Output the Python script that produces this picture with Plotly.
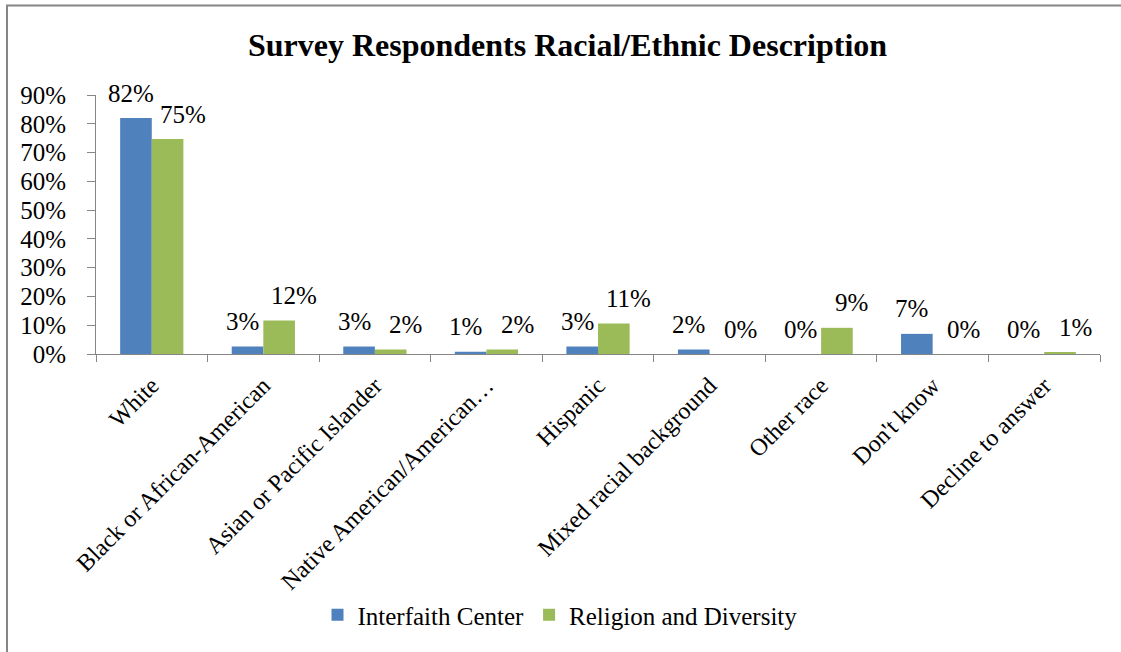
import plotly.graph_objects as go

categories = ["White", "Black or African-American", "Asian or Pacific Islander",
              "Native American/American…", "Hispanic", "Mixed racial background",
              "Other race", "Don't know", "Decline to answer"]
interfaith = [82.0, 2.6, 2.6, 0.8, 2.6, 1.6, 0.0, 7.0, 0.0]
religion = [74.7, 11.6, 1.6, 1.6, 10.6, 0.0, 9.1, 0.0, 0.6]
series_names = ["Interfaith Center", "Religion and Diversity"]
y_ticks = [0, 10, 20, 30, 40, 50, 60, 70, 80, 90]

W, H = 1121, 652
L, R, T, B = 96, 21, 95, 298
plot_w = W - L - R
plot_h = H - T - B
bargap = 0.433
FONT = "Liberation Serif"
BLUE, GREEN = "#4F81BD", "#9BBB59"
GRAY = "#868686"

fig = go.Figure()
fig.add_trace(go.Bar(x=categories, y=interfaith, name=series_names[0],
                     marker=dict(color=BLUE, line=dict(width=0))))
fig.add_trace(go.Bar(x=categories, y=religion, name=series_names[1],
                     marker=dict(color=GREEN, line=dict(width=0))))

# data labels, placed above each bar (Excel-style, nudged apart)
cat_w = plot_w / len(categories)
bar_w = cat_w * (1 - bargap) / 2
for vals, off in ((interfaith, -bar_w / 2 - 5), (religion, bar_w / 2 + 15)):
    for c, v in zip(categories, vals):
        fig.add_annotation(x=c, y=v, xref="x", yref="y", text=f"{v:.0f}%",
                           showarrow=False, xshift=off, yshift=25,
                           xanchor="center", yanchor="middle",
                           font=dict(family=FONT, size=25, color="black"))

# chart-area border (extends beyond the crop on the right and bottom)
def px_x(p):
    return (p - L) / plot_w

def px_y(p):
    return (H - B - p) / plot_h

fig.add_shape(type="rect", xref="paper", yref="paper",
              x0=px_x(7), x1=px_x(1135), y0=px_y(665), y1=px_y(5.5),
              line=dict(color=GRAY, width=2), fillcolor="rgba(0,0,0,0)", layer="below")

fig.update_layout(
    width=W, height=H,
    margin=dict(l=L, r=R, t=T, b=B, autoexpand=False),
    paper_bgcolor="white", plot_bgcolor="white",
    barmode="group", bargap=bargap, bargroupgap=0,
    font=dict(family=FONT, size=25, color="black"),
    title=dict(text="<b>Survey Respondents Racial/Ethnic Description</b>",
               x=567.5 / W, xanchor="center", y=1 - 45 / H, yanchor="middle",
               font=dict(family=FONT, size=32, color="black")),
    showlegend=True,
    legend=dict(orientation="h", x=px_x(560), xanchor="center",
                y=px_y(615), yanchor="middle", itemwidth=30,
                font=dict(family=FONT, size=25, color="black"),
                bgcolor="rgba(0,0,0,0)"),
    xaxis=dict(type="category", showline=True, linecolor=GRAY, linewidth=1,
               ticks="outside", tickson="boundaries", ticklen=7, tickcolor=GRAY,
               tickangle=-45, showgrid=False, ticklabelstandoff=7,
               tickfont=dict(family=FONT, size=24, color="black")),
    yaxis=dict(range=[0, 90], tickvals=y_ticks, ticktext=[f"{t}%" for t in y_ticks],
               showline=True, linecolor=GRAY, linewidth=1, ticks="outside",
               ticklen=8, tickcolor=GRAY, showgrid=False, zeroline=False,
               ticklabelstandoff=16,
               tickfont=dict(family=FONT, size=25, color="black")),
)

fig.write_html("out.html")
